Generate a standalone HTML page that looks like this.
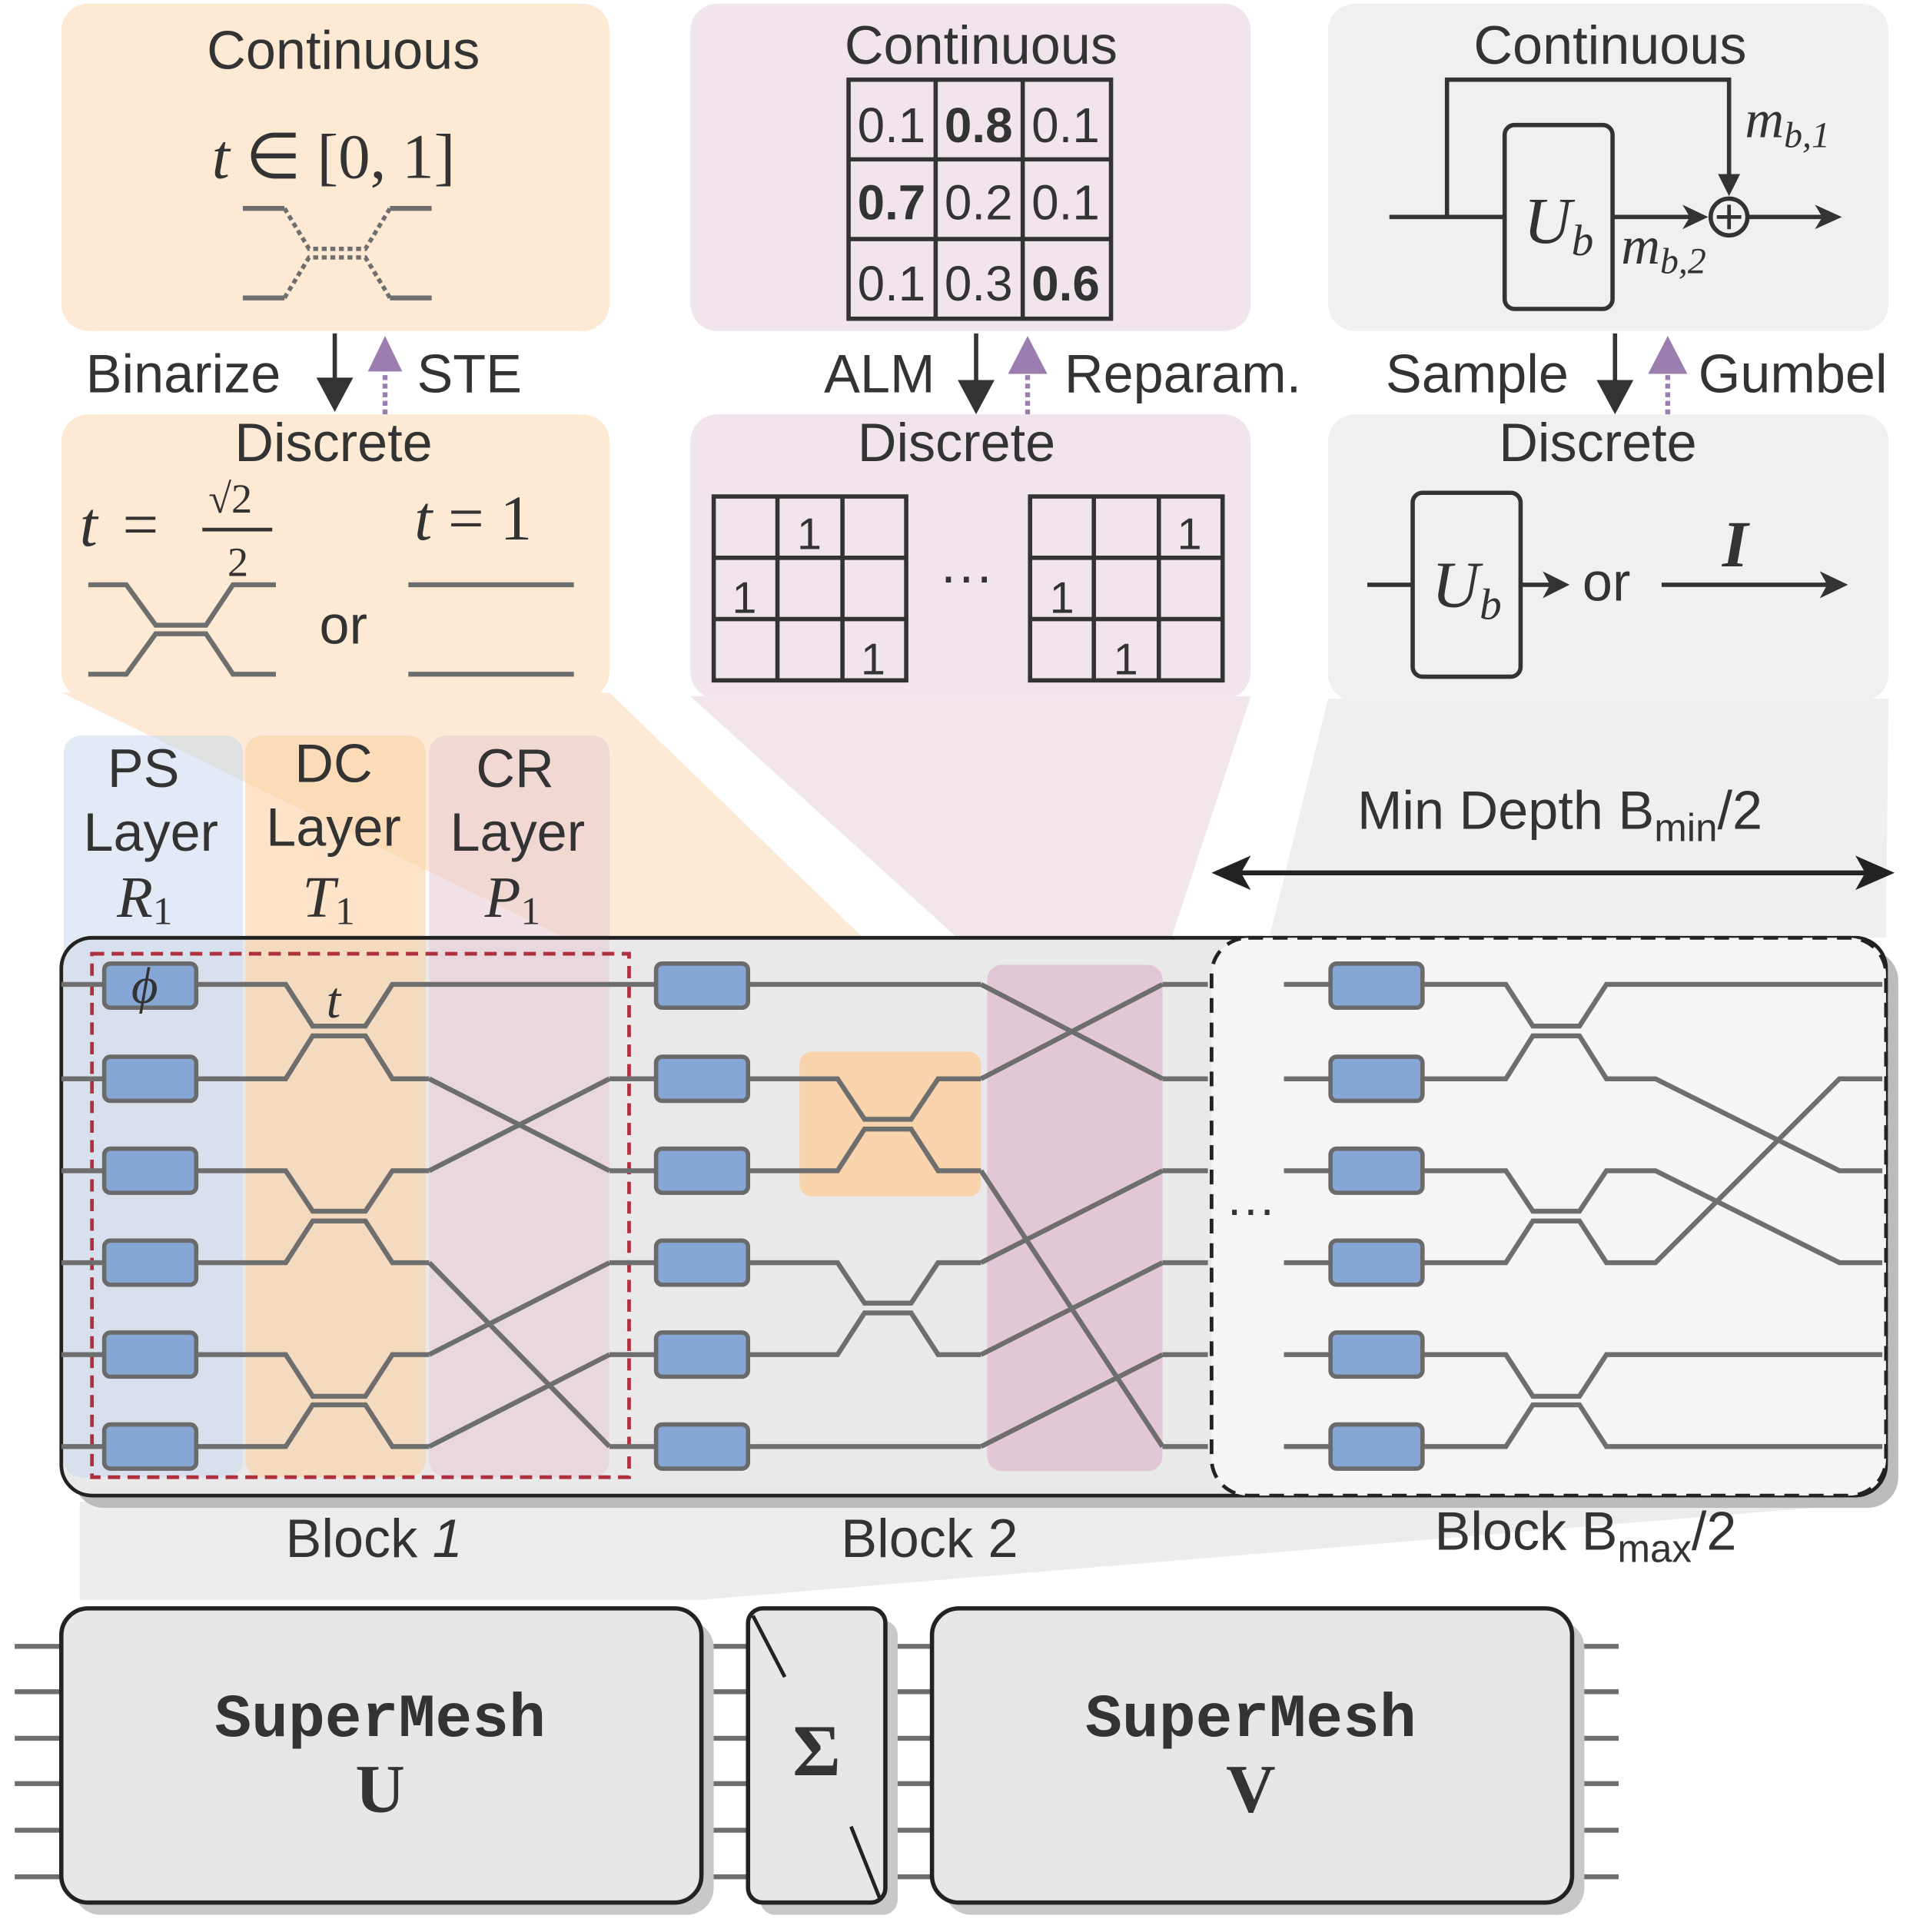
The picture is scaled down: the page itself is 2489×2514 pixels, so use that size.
<!DOCTYPE html>
<html><head><meta charset="utf-8"><style>
html,body{margin:0;padding:0;background:#fff}
svg{display:block}
text{font-family:"Liberation Sans",sans-serif;fill:#333}
.s{font-family:"Liberation Serif",serif;font-style:italic}
.serif{font-family:"Liberation Serif",serif}
.mono{font-family:"Liberation Mono",monospace;font-weight:bold}
.w{stroke:#6e6e6e;stroke-width:4;fill:none}
.ps{fill:#86a6d6;stroke:#6a6a6a;stroke-width:3.5}
.k{stroke:#333;stroke-width:3.5;fill:none}
</style></head><body>
<svg width="2489" height="2514" viewBox="0 0 1560 1576" preserveAspectRatio="none" xmlns="http://www.w3.org/2000/svg">
<!-- trapezoids -->
<polygon points="50,565 497,565 800,858 652,858" fill="#fde6cf" opacity="0.85"/>
<polygon points="563,568 1020,568 948,787 805,787" fill="#f1e3ea" opacity="0.9"/>
<polygon points="1083,570 1540,570 1538,765 1035,765" fill="#efefef"/>
<polygon points="65,1225 1538,1225 572,1305 65,1305" fill="#ececec"/>

<!-- top panels -->
<rect x="50" y="3" width="447" height="267" rx="22" fill="#fde9d4"/>
<rect x="50" y="338" width="447" height="232" rx="22" fill="#fde9d4"/>
<rect x="563" y="3" width="457" height="267" rx="22" fill="#f1e4ec"/>
<rect x="563" y="338" width="457" height="232" rx="22" fill="#f1e4ec"/>
<rect x="1083" y="3" width="457" height="267" rx="22" fill="#f0f0f0"/>
<rect x="1083" y="338" width="457" height="234" rx="22" fill="#f0f0f0"/>

<!-- panel1 -->
<text x="280" y="56" font-size="44" text-anchor="middle">Continuous</text>
<text x="272" y="145" font-size="52" text-anchor="middle" class="serif"><tspan font-style="italic">t</tspan> ∈ [0, 1]</text>
<path d="M198 170 H232 M318 170 H352 M198 243 H232 M318 243 H352" stroke="#6e6e6e" stroke-width="4"/>
<path d="M232 170 L252 203 H298 L318 170 M232 243 L252 210 H298 L318 243" stroke="#6e6e6e" stroke-width="3.5" fill="none" stroke-dasharray="4,3"/>
<text x="70" y="320" font-size="44">Binarize</text>
<line x1="273" y1="272" x2="273" y2="320" class="k"/>
<path d="M258 308 L273 336 L288 308z" fill="#333"/>
<line x1="314" y1="338" x2="314" y2="298" stroke="#9b7db0" stroke-width="4" stroke-dasharray="4,3"/>
<path d="M300 303 L314 274 L328 303z" fill="#9b7db0"/>
<text x="340" y="320" font-size="44">STE</text>
<text x="272" y="376" font-size="44" text-anchor="middle">Discrete</text>
<text x="65" y="445" font-size="52" class="s">t</text>
<text x="100" y="445" font-size="52" class="serif">=</text>
<text x="170" y="418" font-size="34" class="serif">√2</text>
<line x1="165" y1="432" x2="222" y2="432" stroke="#333" stroke-width="3"/>
<text x="194" y="470" font-size="34" class="serif" text-anchor="middle">2</text>
<path class="w" d="M72 477 H103 L127 510 H168 L190 477 H225 M72 550 H103 L127 517 H168 L190 550 H225"/>
<text x="280" y="525" font-size="44" text-anchor="middle">or</text>
<text x="338" y="440" font-size="52" class="serif"><tspan font-style="italic">t</tspan> = 1</text>
<path class="w" d="M333 477 H468 M333 550 H468"/>

<!-- panel2 -->
<text x="800" y="52" font-size="44" text-anchor="middle">Continuous</text>
<g class="k" stroke-width="4"><rect x="692" y="65" width="214" height="195"/><path d="M763 65 V260 M834 65 V260 M692 130 H906 M692 195 H906"/></g>
<g font-size="40" text-anchor="middle">
<text x="727" y="116">0.1</text><text x="798" y="116" font-weight="bold">0.8</text><text x="869" y="116">0.1</text>
<text x="727" y="179" font-weight="bold">0.7</text><text x="798" y="179">0.2</text><text x="869" y="179">0.1</text>
<text x="727" y="245">0.1</text><text x="798" y="245">0.3</text><text x="869" y="245" font-weight="bold">0.6</text>
</g>
<text x="672" y="320" font-size="44">ALM</text>
<line x1="796" y1="272" x2="796" y2="320" class="k"/>
<path d="M781 310 L796 338 L811 310z" fill="#333"/>
<line x1="838" y1="338" x2="838" y2="298" stroke="#9b7db0" stroke-width="4" stroke-dasharray="4,3"/>
<path d="M822 305 L838 274 L854 305z" fill="#9b7db0"/>
<text x="868" y="320" font-size="44">Reparam.</text>
<text x="780" y="376" font-size="44" text-anchor="middle">Discrete</text>
<g class="k" stroke-width="3.5">
<rect x="582" y="405" width="157" height="150"/><path d="M634 405 V555 M687 405 V555 M582 455 H739 M582 505 H739"/>
<rect x="840" y="405" width="157" height="150"/><path d="M892 405 V555 M945 405 V555 M840 455 H997 M840 505 H997"/>
</g>
<g font-size="36" text-anchor="middle">
<text x="660" y="448">1</text><text x="607" y="500">1</text><text x="712" y="550">1</text>
<text x="970" y="448">1</text><text x="866" y="500">1</text><text x="918" y="550">1</text>
</g>
<text x="788" y="485" font-size="44" text-anchor="middle">···</text>

<!-- panel3 -->
<text x="1313" y="52" font-size="44" text-anchor="middle">Continuous</text>
<path class="k" d="M1133 177 H1227 M1180 177 V65 H1410 V150"/>
<path d="M1401 142 L1410 160 L1419 142z" fill="#333"/>
<rect x="1227" y="102" width="88" height="150" rx="8" class="k"/>
<text x="1271" y="198" font-size="54" class="s" text-anchor="middle">U<tspan font-size="36" dy="10">b</tspan></text>
<line x1="1315" y1="177" x2="1385" y2="177" class="k"/>
<path d="M1372 167 L1393 177 L1372 187 L1378 177z" fill="#333"/>
<circle cx="1410" cy="177" r="15" class="k" stroke-width="3"/>
<path d="M1410 167 V187 M1400 177 H1420" stroke="#333" stroke-width="3"/>
<line x1="1425" y1="177" x2="1492" y2="177" class="k"/>
<path d="M1480 167 L1502 177 L1480 187 L1486 177z" fill="#333"/>
<text x="1423" y="112" font-size="44" class="s">m<tspan font-size="30" dy="8">b,1</tspan></text>
<text x="1322" y="215" font-size="44" class="s">m<tspan font-size="30" dy="8">b,2</tspan></text>
<text x="1130" y="320" font-size="44">Sample</text>
<line x1="1317" y1="272" x2="1317" y2="320" class="k"/>
<path d="M1302 310 L1317 338 L1332 310z" fill="#333"/>
<line x1="1360" y1="338" x2="1360" y2="298" stroke="#9b7db0" stroke-width="4" stroke-dasharray="4,3"/>
<path d="M1344 305 L1360 274 L1376 305z" fill="#9b7db0"/>
<text x="1385" y="320" font-size="44">Gumbel</text>
<text x="1303" y="376" font-size="44" text-anchor="middle">Discrete</text>
<line x1="1115" y1="477" x2="1152" y2="477" class="k"/>
<rect x="1152" y="402" width="88" height="150" rx="8" class="k"/>
<text x="1196" y="495" font-size="54" class="s" text-anchor="middle">U<tspan font-size="36" dy="10">b</tspan></text>
<line x1="1240" y1="477" x2="1268" y2="477" class="k"/>
<path d="M1258 466 L1280 477 L1258 488 L1264 477z" fill="#333"/>
<text x="1310" y="490" font-size="44" text-anchor="middle">or</text>
<line x1="1355" y1="477" x2="1495" y2="477" class="k"/>
<path d="M1484 466 L1507 477 L1484 488 L1490 477z" fill="#333"/>
<text x="1415" y="462" font-size="54" class="s" text-anchor="middle" font-weight="bold">I</text>

<!-- min depth -->
<text x="1272" y="676" font-size="44" text-anchor="middle">Min Depth B<tspan font-size="32" dy="10">min</tspan><tspan dy="-10">/2</tspan></text>
<line x1="1000" y1="712" x2="1533" y2="712" stroke="#222" stroke-width="4"/>
<path d="M1020 698 L988 712 L1020 726 L1012 712z" fill="#222"/>
<path d="M1513 698 L1545 712 L1513 726 L1521 712z" fill="#222"/>

<!-- main mesh -->
<rect x="60" y="775" width="1488" height="455" rx="25" fill="#bcbcbc"/>
<rect x="50" y="765" width="1488" height="455" rx="25" fill="#e8e9e8"/>
<rect x="52" y="600" width="146" height="605" rx="14" fill="#c9d8ee" opacity="0.55"/>
<rect x="200" y="600" width="147" height="605" rx="14" fill="#fbd0a4" opacity="0.6"/>
<rect x="350" y="600" width="147" height="605" rx="14" fill="#e8c8d2" opacity="0.55"/>
<rect x="805" y="787" width="143" height="413" rx="12" fill="#e2c8d6"/>
<rect x="652" y="858" width="148" height="118" rx="10" fill="#f8d3ac"/>
<rect x="50" y="765" width="1488" height="455" rx="25" fill="none" stroke="#222" stroke-width="3"/>
<rect x="988" y="765" width="550" height="455" rx="30" fill="#f4f5f4" stroke="#222" stroke-width="3" stroke-dasharray="12,8"/>
<rect x="75" y="778" width="438" height="427" fill="none" stroke="#b03040" stroke-width="3" stroke-dasharray="10,6"/>

<text x="117" y="642" font-size="44" text-anchor="middle">PS</text>
<text x="123" y="694" font-size="44" text-anchor="middle">Layer</text>
<text x="118" y="748" font-size="48" class="s" text-anchor="middle">R<tspan font-size="32" font-style="normal" dy="6">1</tspan></text>
<text x="272" y="638" font-size="44" text-anchor="middle">DC</text>
<text x="272" y="690" font-size="44" text-anchor="middle">Layer</text>
<text x="268" y="748" font-size="48" class="s" text-anchor="middle">T<tspan font-size="32" font-style="normal" dy="6">1</tspan></text>
<text x="420" y="642" font-size="44" text-anchor="middle">CR</text>
<text x="422" y="694" font-size="44" text-anchor="middle">Layer</text>
<text x="418" y="748" font-size="48" class="s" text-anchor="middle">P<tspan font-size="32" font-style="normal" dy="6">1</tspan></text>

<!-- waveguides -->
<path class="w" d="
M50 803 H85 M50 880 H85 M50 955 H85 M50 1030 H85 M50 1105 H85 M50 1180 H85
M160 803 H233 L255 837 H298 L320 803 H350 M160 880 H233 L255 845 H298 L320 880 H350
M160 955 H233 L255 988 H298 L320 955 H350 M160 1030 H233 L255 996 H298 L320 1030 H350
M160 1105 H233 L255 1139 H298 L320 1105 H350 M160 1180 H233 L255 1146 H298 L320 1180 H350
M350 803 H535 M350 880 L497 955 M350 955 L497 880 M350 1030 L497 1180 M350 1105 L497 1030 M350 1180 L497 1105
M497 880 H535 M497 955 H535 M497 1030 H535 M497 1105 H535 M497 1180 H535
M610 803 H800 M610 1180 H800
M610 880 H683 L705 913 H743 L765 880 H800 M610 955 H683 L705 921 H743 L765 955 H800
M610 1030 H683 L705 1063 H743 L765 1030 H800 M610 1105 H683 L705 1071 H743 L765 1105 H800
M800 803 L948 880 M800 880 L948 803 M800 955 L948 1180 M800 1030 L948 955 M800 1105 L948 1030 M800 1180 L948 1105
M948 803 H985 M948 880 H985 M948 955 H985 M948 1030 H985 M948 1105 H985 M948 1180 H985
M1047 803 H1085 M1047 880 H1085 M1047 955 H1085 M1047 1030 H1085 M1047 1105 H1085 M1047 1180 H1085
M1160 803 H1228 L1250 837 H1288 L1310 803 H1535 M1160 880 H1228 L1250 845 H1288 L1310 880 H1350 L1500 955 H1535
M1160 955 H1228 L1250 988 H1288 L1310 955 H1350 L1500 1030 H1535 M1160 1030 H1228 L1250 996 H1288 L1310 1030 H1350 L1500 880 H1535
M1160 1105 H1228 L1250 1139 H1288 L1310 1105 H1535 M1160 1180 H1228 L1250 1146 H1288 L1310 1180 H1535"/>
<g class="ps">
<rect x="85" y="786" width="75" height="36" rx="5"/><rect x="85" y="862" width="75" height="36" rx="5"/><rect x="85" y="937" width="75" height="36" rx="5"/><rect x="85" y="1012" width="75" height="36" rx="5"/><rect x="85" y="1087" width="75" height="36" rx="5"/><rect x="85" y="1162" width="75" height="36" rx="5"/>
<rect x="535" y="786" width="75" height="36" rx="5"/><rect x="535" y="862" width="75" height="36" rx="5"/><rect x="535" y="937" width="75" height="36" rx="5"/><rect x="535" y="1012" width="75" height="36" rx="5"/><rect x="535" y="1087" width="75" height="36" rx="5"/><rect x="535" y="1162" width="75" height="36" rx="5"/>
<rect x="1085" y="786" width="75" height="36" rx="5"/><rect x="1085" y="862" width="75" height="36" rx="5"/><rect x="1085" y="937" width="75" height="36" rx="5"/><rect x="1085" y="1012" width="75" height="36" rx="5"/><rect x="1085" y="1087" width="75" height="36" rx="5"/><rect x="1085" y="1162" width="75" height="36" rx="5"/>
</g>
<text x="118" y="818" font-size="42" class="s" text-anchor="middle">ϕ</text>
<text x="272" y="830" font-size="42" class="s" text-anchor="middle">t</text>
<text x="1020" y="1000" font-size="40" text-anchor="middle">···</text>

<text x="305" y="1270" font-size="44" text-anchor="middle">Block <tspan font-style="italic">1</tspan></text>
<text x="758" y="1270" font-size="44" text-anchor="middle">Block 2</text>
<text x="1293" y="1264" font-size="44" text-anchor="middle">Block B<tspan font-size="32" dy="10">max</tspan><tspan dy="-10">/2</tspan></text>

<!-- bottom -->
<g stroke="#6e6e6e" stroke-width="4">
<path d="M12 1343 H50 M12 1380 H50 M12 1418 H50 M12 1455 H50 M12 1493 H50 M12 1531 H50"/>
<path d="M572 1343 H610 M572 1380 H610 M572 1418 H610 M572 1455 H610 M572 1493 H610 M572 1531 H610"/>
<path d="M722 1343 H760 M722 1380 H760 M722 1418 H760 M722 1455 H760 M722 1493 H760 M722 1531 H760"/>
<path d="M1282 1343 H1320 M1282 1380 H1320 M1282 1418 H1320 M1282 1455 H1320 M1282 1493 H1320 M1282 1531 H1320"/>
</g>
<rect x="60" y="1322" width="522" height="240" rx="22" fill="#c8c8c8"/>
<rect x="620" y="1322" width="112" height="240" rx="12" fill="#c8c8c8"/>
<rect x="770" y="1322" width="522" height="240" rx="22" fill="#c8c8c8"/>
<rect x="50" y="1312" width="522" height="240" rx="22" fill="#e6e7e6" stroke="#222" stroke-width="3.5"/>
<rect x="610" y="1312" width="112" height="240" rx="12" fill="#e6e7e6" stroke="#222" stroke-width="3.5"/>
<rect x="760" y="1312" width="522" height="240" rx="22" fill="#e6e7e6" stroke="#222" stroke-width="3.5"/>
<path d="M614 1318 L640 1368 M694 1490 L718 1550" stroke="#222" stroke-width="3"/>
<text x="666" y="1448" font-size="60" class="serif" font-weight="bold" text-anchor="middle">Σ</text>
<text x="310" y="1416" font-size="50" class="mono" text-anchor="middle">SuperMesh</text>
<text x="310" y="1478" font-size="56" class="serif" font-weight="bold" text-anchor="middle">U</text>
<text x="1020" y="1416" font-size="50" class="mono" text-anchor="middle">SuperMesh</text>
<text x="1020" y="1478" font-size="56" class="serif" font-weight="bold" text-anchor="middle">V</text>
</svg>
</body></html>
